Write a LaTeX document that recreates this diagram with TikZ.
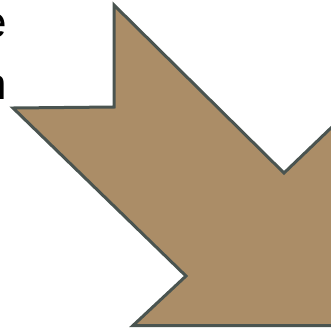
\documentclass[tikz,border=0pt]{standalone}
\usepackage{fontspec}
\setmainfont{Liberation Sans}
\definecolor{arrowfill}{RGB}{171,141,103}
\definecolor{arrowline}{RGB}{74,84,80}
\begin{document}
\begin{tikzpicture}[x=1pt,y=-1pt,
  bigarrow/.style={fill=arrowfill,draw=arrowline,line width=3pt,line join=miter},
  cuttext/.style={inner sep=0pt,font=\fontsize{44}{50}\selectfont,text=black}]
\useasboundingbox (0,0) rectangle (331,330);
\node[cuttext,anchor=base east] (t1) at (7.5,37.5) {e};
\node[cuttext,anchor=base east] (t2) at (7.5,99.5) {n};
\draw[bigarrow] (114,5) -- (114,107) -- (13,108) -- (186,276) -- (133,325.5)
  -- (333,325.5) -- (333,126) -- (284,173) -- cycle;
\end{tikzpicture}
\end{document}
